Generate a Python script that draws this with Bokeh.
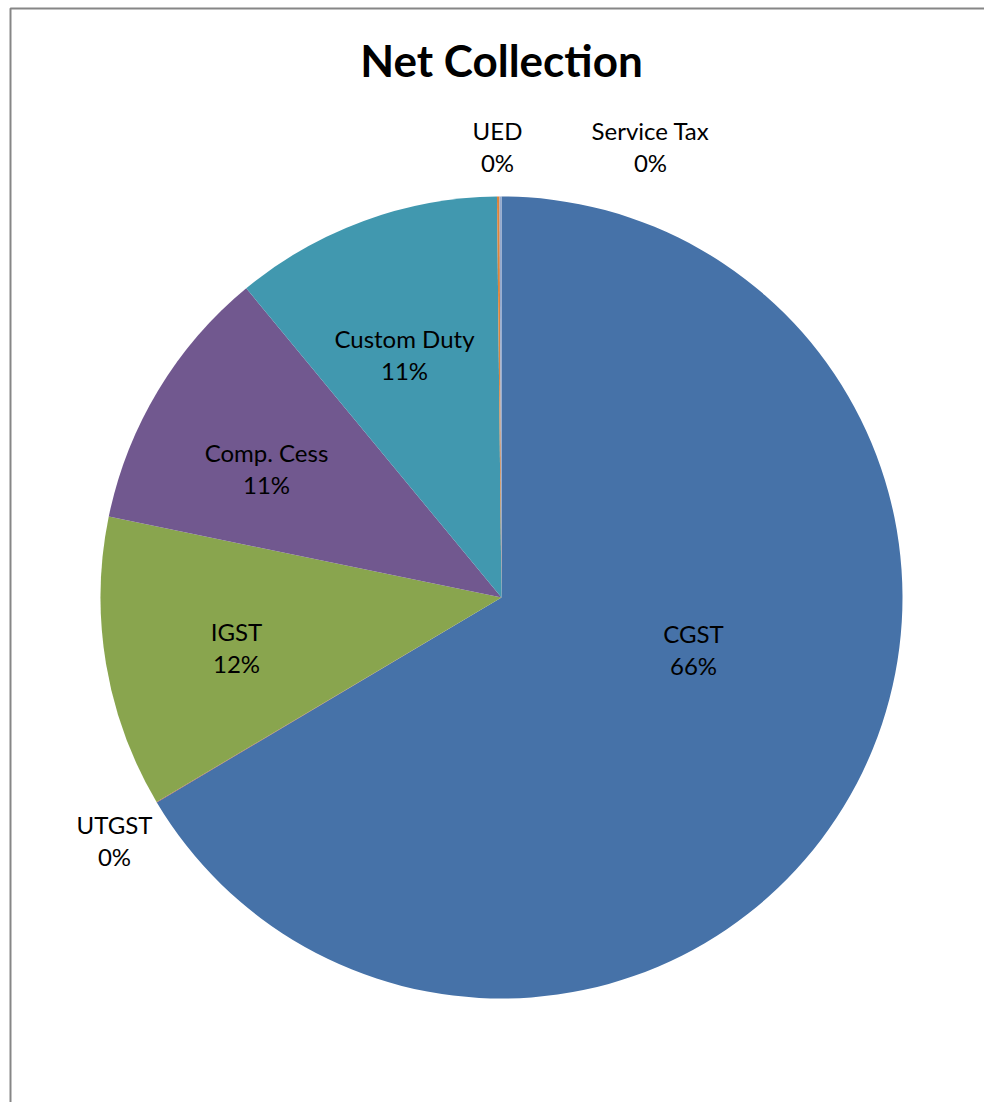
import math
from bokeh.plotting import figure
from bokeh.models import Range1d, ColumnDataSource
from bokeh.core.properties import value
from bokeh.embed import file_html
from bokeh.resources import INLINE

# ---- data ----
categories = ["CGST", "UTGST", "IGST", "Comp. Cess", "Custom Duty", "UED", "Service Tax"]
values = [66.45, 0.02, 11.75, 10.78, 10.80, 0.10, 0.08]
colors = ["#4672A8", "#AA4643", "#89A54E", "#71588F", "#4198AF", "#DB843D", "#93A9CF"]
title_text = "Net Collection"

# ---- layout (picture pixel coordinates) ----
W, H = 984, 1102
CX, CY, R = 501, 597, 401
# label block centres relative to pie centre (px, y downward)
label_offsets = [(192, 52), (-387, 243), (-265, 50), (-235, -129),
                 (-97, -243), (-4, -451), (149, -451)]
FONT = "Lato"

p = figure(width=W, height=H, output_backend="svg", toolbar_location=None,
           x_range=Range1d(0, W), y_range=Range1d(-H, 0),
           min_border=0, outline_line_color=None)
p.axis.visible = False
p.grid.visible = False
p.background_fill_color = "white"
p.border_fill_color = "white"

total = sum(values)
starts, ends, cum = [], [], 0.0
for v in values:
    starts.append(math.pi / 2 - 2 * math.pi * cum / total)
    cum += v
    ends.append(math.pi / 2 - 2 * math.pi * cum / total)

src = ColumnDataSource(dict(cat=categories, val=values, color=colors,
                            start=starts, end=ends))
p.wedge(x=CX, y=-CY, radius=R, start_angle="start", end_angle="end",
        direction="clock", fill_color="color", line_color=None, source=src)

pcts = [f"{round(v / total * 100)}%" for v in values]
lx = [CX + dx for dx, dy in label_offsets]
ly = [-(CY + dy) for dx, dy in label_offsets]
lab = ColumnDataSource(dict(x=lx, y_name=[y + 16 for y in ly], y_pct=[y - 16 for y in ly],
                            name=categories, pct=pcts))
common = dict(text_font=value(FONT), text_font_size="24px", text_color="#000000",
              text_align="center", text_baseline="middle", source=lab)
p.text(x="x", y="y_name", text="name", **common)
p.text(x="x", y="y_pct", text="pct", **common)

# title
p.text(x=[CX], y=[-59], text=[title_text], text_font=value(FONT), text_font_size="44px",
       text_font_style="bold", text_color="#000000", text_align="center",
       text_baseline="middle")

# chart-area border (left and top edges visible in the crop)
p.line(x=[10, 10, W], y=[-H, -8, -8], line_color="#868686", line_width=2)

open("out.html", "w").write(file_html(p, INLINE))
